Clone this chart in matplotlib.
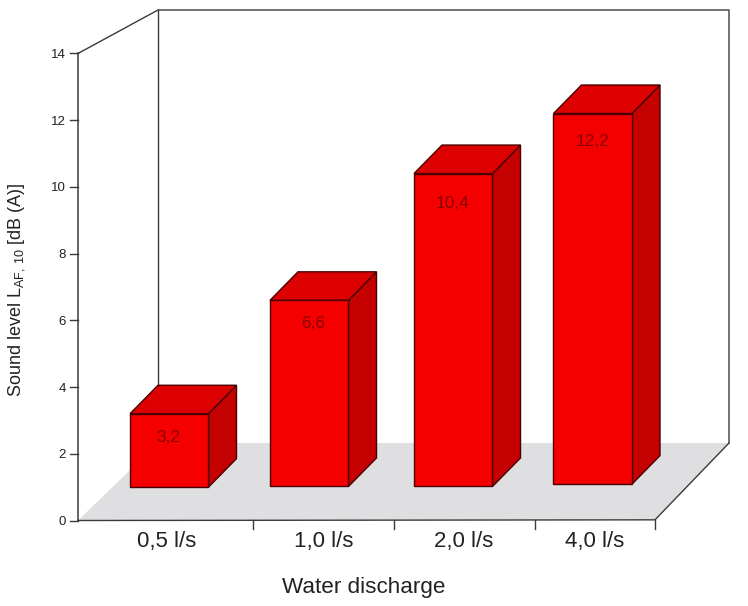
import matplotlib
matplotlib.use("Agg")
import matplotlib.pyplot as plt
from matplotlib.patches import Polygon

plt.rcParams['font.family'] = ['Liberation Sans', 'DejaVu Sans']
plt.rcParams['mathtext.default'] = 'regular'

categories = ['0,5 l/s', '1,0 l/s', '2,0 l/s', '4,0 l/s']
values = [3.2, 6.6, 10.4, 12.2]
value_labels = ['3,2', '6,6', '10,4', '12,2']
bar_bases = [1.0, 1.02, 1.02, 1.09]
y_ticks = [0, 2, 4, 6, 8, 10, 12, 14]

# layout, in pixels of the 748x606 picture
W, H = 748, 606
Y0 = 520.5
PX_PER_UNIT = 33.36
bar_left = [130, 270, 414, 553.5]
bar_width = 78.5
depth_x, depth_y = 28, 28.5
axis_left = 78
axis_right = 655
x_ticks = [253, 394, 535, 655]
label_x = [167, 324, 464, 595]
value_label_x = [168, 313, 453, 593]
value_label_y = [437, 324, 203, 142]


def py(pixel):
    return (Y0 - pixel) / PX_PER_UNIT


fig = plt.figure(figsize=(W / 100, H / 100), dpi=100)
ax = fig.add_axes([0, 0, 1, 1])
ax.set_xlim(0, W)
ax.set_ylim(py(H), py(0))
ax.axis('off')

line_col = '#3a3a3a'
text_col = '#222222'
dy = depth_y / PX_PER_UNIT

# floor
floor = [(axis_left, 0), (axis_right, 0.02), (729, py(443)), (158, py(443))]
ax.add_patch(Polygon(floor, closed=True, fc='#dfdfe2', ec='none', zorder=1))

# walls
top = py(10)
ax.plot([axis_left, axis_left], [0, 14], color=line_col, lw=1.1, zorder=2)
ax.plot([axis_left, 158, 729, 729], [14, top, top, py(443)], color=line_col, lw=1.0, zorder=2)
ax.plot([158, 158], [top, py(443)], color=line_col, lw=1.0, zorder=2)
ax.plot([axis_left, axis_right, 729], [0, 0.02, py(443)], color=line_col, lw=1.0, zorder=2)

# axis ticks
for t in y_ticks:
    ax.plot([axis_left - 8, axis_left], [t, t], color=line_col, lw=1.0, zorder=2)
    ax.text(axis_left - 12, t, str(t), ha='right', va='center_baseline', fontsize=9.5, color=text_col)
for x in x_ticks:
    ax.plot([x, x], [0.02, py(529)], color=line_col, lw=1.0, zorder=2)
for x, c in zip(label_x, categories):
    ax.text(x, py(541), c, ha='center', va='center', fontsize=16, color=text_col)

# bars
for left, v, base in zip(bar_left, values, bar_bases):
    right = left + bar_width
    ax.add_patch(Polygon([(right, base), (right + depth_x, base + dy), (right + depth_x, v + dy), (right, v)],
                         fc='#c40000', ec='#4a0000', lw=1.0, zorder=3))
    ax.add_patch(Polygon([(left, v), (right, v), (right + depth_x, v + dy), (left + depth_x, v + dy)],
                         fc='#dc0000', ec='#4a0000', lw=1.0, zorder=3))
    ax.add_patch(Polygon([(left, base), (right, base), (right, v), (left, v)],
                         fc='#f40000', ec='#4a0000', lw=1.0, zorder=4))

for x, y, lab in zip(value_label_x, value_label_y, value_labels):
    ax.text(x, py(y), lab, ha='center', va='center', fontsize=12.5, color='#8a0000', zorder=5)

ax.text(17, py(290), 'Sound level L$_{AF,\\,10}$ [dB (A)]', rotation=90, ha='center', va='center',
        fontsize=13, color=text_col)
ax.text(364, py(588), 'Water discharge', ha='center', va='center', fontsize=16.2, color=text_col)

plt.savefig('out.png', dpi=100)
